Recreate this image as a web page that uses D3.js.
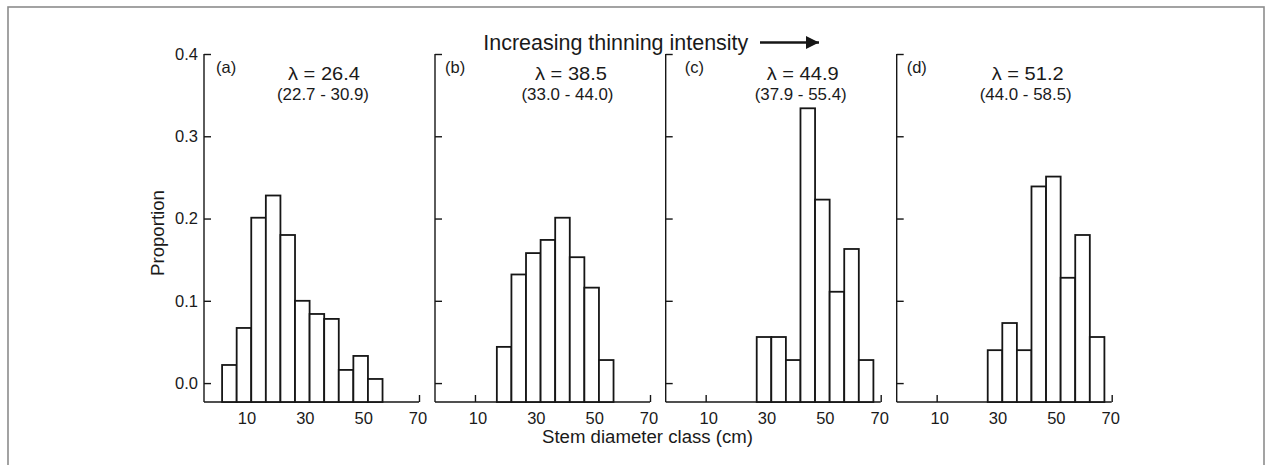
<!DOCTYPE html>
<html>
<head>
<meta charset="utf-8">
<script src="https://cdn.jsdelivr.net/npm/d3@7"></script>
<style>
  html, body { margin: 0; padding: 0; background: #fff; }
  svg text { font-family: "Liberation Sans", Arial, sans-serif; fill: #1a1a1a; }
</style>
</head>
<body>
<svg id="chart" width="1265" height="465"></svg>
<script>
// ---- data ----
const panelLabels = ["(a)", "(b)", "(c)", "(d)"];
const lambdaLabels = ["λ = 26.4", "λ = 38.5", "λ = 44.9", "λ = 51.2"];
const ciLabels = ["(22.7 - 30.9)", "(33.0 - 44.0)", "(37.9 - 55.4)", "(44.0 - 58.5)"];

const classesA = [5, 10, 15, 20, 25, 30, 35, 40, 45, 50, 55];
const valuesA  = [0.022, 0.067, 0.201, 0.228, 0.180, 0.100, 0.084, 0.078, 0.016, 0.033, 0.005];
const classesB = [20, 25, 30, 35, 40, 45, 50, 55];
const valuesB  = [0.044, 0.132, 0.158, 0.174, 0.201, 0.153, 0.116, 0.028];
const classesC = [30, 35, 40, 45, 50, 55, 60, 65];
const valuesC  = [0.056, 0.056, 0.028, 0.334, 0.223, 0.111, 0.163, 0.028];
const classesD = [30, 35, 40, 45, 50, 55, 60, 65];
const valuesD  = [0.040, 0.073, 0.040, 0.239, 0.251, 0.128, 0.180, 0.056];

const xTicks = [10, 30, 50, 70];
const yTicks = [0.0, 0.1, 0.2, 0.3, 0.4];
const binWidth = 5;

const titleText = "Increasing thinning intensity";
const xTitle = "Stem diameter class (cm)";
const yTitle = "Proportion";

// ---- layout ----
const panelX0 = [204, 435, 665.7, 896.7];
const axisLen = 215;
const labelDx = [12, 10, 19, 10];
const lambdaDx = [120, 136, 137, 131];
const ciDx = [119, 132.5, 135, 129];

const svg = d3.select("#chart");
const ink = "#161616";

// outer frame
svg.append("rect").attr("x", 8).attr("y", 7).attr("width", 1256).attr("height", 470)
  .attr("fill", "none").attr("stroke", "#8c8c8c").attr("stroke-width", 1.6);

const y = d3.scaleLinear().domain([-0.023, 0.4]).range([402, 54]);

const series = [
  { classes: classesA, values: valuesA },
  { classes: classesB, values: valuesB },
  { classes: classesC, values: valuesC },
  { classes: classesD, values: valuesD }
];

series.forEach((s, i) => {
  const x0 = panelX0[i];
  const x = d3.scaleLinear().domain([-3.7, 70]).range([x0, x0 + axisLen]);
  const g = svg.append("g");

  // y axis (ticks inward)
  const yAxis = d3.axisRight(y).tickValues(yTicks).tickSize(7).tickFormat("");
  const ya = g.append("g").attr("transform", `translate(${x0},0)`).call(yAxis);
  ya.select(".domain").attr("d", `M0,${y.range()[1]}V${y.range()[0]}`);
  ya.selectAll("path,line").attr("stroke", ink).attr("stroke-width", 1.4);

  if (i === 0) {
    g.selectAll(".ylab").data(yTicks).enter().append("text")
      .attr("x", x0 - 6).attr("y", d => y(d))
      .attr("dy", "0.36em").attr("text-anchor", "end")
      .attr("font-size", 16.5).text(d => d3.format(".1f")(d));
  }

  // x axis (ticks inward)
  const xAxis = d3.axisTop(x).tickValues(xTicks).tickSize(7).tickFormat("");
  const xa = g.append("g").attr("transform", `translate(0,${y.range()[0]})`).call(xAxis);
  xa.select(".domain").attr("d", `M${x0},0H${x0 + axisLen}`);
  xa.selectAll("path,line").attr("stroke", ink).attr("stroke-width", 1.4);

  g.selectAll(".xlab").data(xTicks).enter().append("text")
    .attr("x", d => x(d) + (d === 70 ? -1 : 3)).attr("y", 424)
    .attr("text-anchor", "middle").attr("font-size", 16.5)
    .text(d => d);

  // bars
  const data = s.classes.map((c, k) => ({ c, v: s.values[k] }));
  g.selectAll(".bar").data(data).enter().append("rect")
    .attr("x", d => x(d.c - binWidth / 2))
    .attr("width", d => x(d.c + binWidth / 2) - x(d.c - binWidth / 2))
    .attr("y", d => y(d.v))
    .attr("height", d => y.range()[0] - y(d.v))
    .attr("fill", "#fff").attr("stroke", ink).attr("stroke-width", 1.8);

  // panel texts
  g.append("text").attr("x", x0 + labelDx[i]).attr("y", 73)
    .attr("font-size", 16.5).text(panelLabels[i]);
  g.append("text").attr("x", x0 + lambdaDx[i]).attr("y", 79.5)
    .attr("text-anchor", "middle").attr("font-size", 18.5)
    .attr("textLength", 72).attr("lengthAdjust", "spacingAndGlyphs")
    .text(lambdaLabels[i]);
  g.append("text").attr("x", x0 + ciDx[i]).attr("y", 100)
    .attr("text-anchor", "middle").attr("font-size", 16.5)
    .attr("textLength", 92).attr("lengthAdjust", "spacingAndGlyphs")
    .text(ciLabels[i]);
});

// y title
svg.append("text").attr("transform", "translate(164,233) rotate(-90)")
  .attr("text-anchor", "middle").attr("font-size", 18)
  .attr("textLength", 86).attr("lengthAdjust", "spacingAndGlyphs")
  .text(yTitle);

// x title
svg.append("text").attr("x", 647.5).attr("y", 443)
  .attr("text-anchor", "middle").attr("font-size", 17.5)
  .attr("textLength", 211).attr("lengthAdjust", "spacingAndGlyphs")
  .text(xTitle);

// top title + arrow
svg.append("text").attr("x", 483.3).attr("y", 50)
  .attr("font-size", 22)
  .attr("textLength", 265).attr("lengthAdjust", "spacingAndGlyphs")
  .text(titleText);

svg.append("defs").append("marker")
  .attr("id", "arrowhead").attr("viewBox", "0 0 10 10")
  .attr("refX", 10).attr("refY", 5)
  .attr("markerWidth", 18).attr("markerHeight", 13)
  .attr("markerUnits", "userSpaceOnUse").attr("orient", "auto")
  .append("path").attr("d", "M0,0L10,5L0,10Z").attr("fill", ink);

svg.append("line").attr("x1", 760).attr("y1", 42.5).attr("x2", 819).attr("y2", 42.5)
  .attr("stroke", ink).attr("stroke-width", 2.6).attr("marker-end", "url(#arrowhead)");
</script>
</body>
</html>
